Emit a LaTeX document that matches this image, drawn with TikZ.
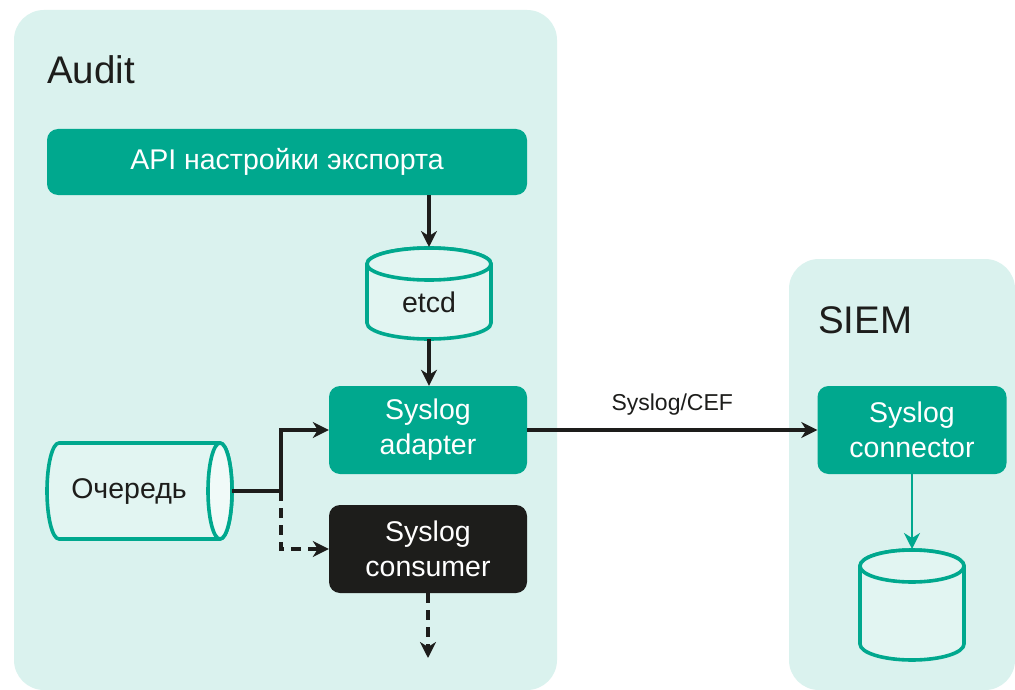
\documentclass[tikz,border=0pt]{standalone}
\usepackage{fontspec}
\setmainfont{Liberation Sans}
\usetikzlibrary{arrows.meta}
\definecolor{teal}{HTML}{00A88E}
\definecolor{panel}{HTML}{DAF2EE}
\definecolor{cylfill}{HTML}{E2F5F2}
\definecolor{ink}{HTML}{1D1D1B}
\tikzset{
  panelbox/.style={fill=panel, draw=none, rounded corners=30pt},
  tealbox/.style={fill=teal, draw=none, rounded corners=11pt, text=white, align=center,
    font=\fontsize{28.5}{35}\selectfont, inner sep=0pt},
  blackbox/.style={tealbox, fill=ink},
  cyl/.style={draw=teal, fill=cylfill, line width=3.6pt},
  conn/.style={draw=ink, line width=3.1pt, -{Stealth[length=16pt,width=16pt,inset=5pt]}},
  plain/.style={draw=ink, line width=3.1pt},
  dashconn/.style={conn, dash pattern=on 10pt off 7pt},
  tealconn/.style={conn, draw=teal, line width=2.6pt},
  title/.style={font=\fontsize{38.5}{42}\selectfont, text=ink, anchor=base west, inner sep=0pt},
  cyltext/.style={font=\fontsize{28.5}{35}\selectfont, text=ink, inner sep=0pt},
  lbl/.style={font=\fontsize{23}{28}\selectfont, text=ink, inner sep=0pt}
}
\begin{document}
\begin{tikzpicture}[x=1pt, y=-1pt]
\useasboundingbox[fill=white] (0,0) rectangle (1015,690);
% panels
\fill[panelbox] (14,10) rectangle (557,690);
\fill[panelbox] (789,259) rectangle (1015,690);
\node[title] (audit) at (47,84) {Audit};
\node[title] (siem) at (818,333) {SIEM};
% boxes
\node[tealbox, minimum width=480pt, minimum height=66pt] (api) at (287,162) {API настройки экспорта};
\node[tealbox, minimum width=198pt, minimum height=88pt] (adapter) at (428,430) {Syslog\\adapter};
\node[blackbox, minimum width=198pt, minimum height=88pt] (consumer) at (428,549) {Syslog\\consumer};
\node[tealbox, minimum width=189pt, minimum height=88pt] (connector) at (912,430) {Syslog\\connector};
% etcd cylinder
\path[cyl] (367,264) -- (367,323) arc[start angle=180, end angle=360, x radius=62pt, y radius=16pt]
  -- (491,264) arc[start angle=0, end angle=180, x radius=62pt, y radius=16pt] -- cycle;
\draw[cyl] (429,264) ellipse[x radius=62pt, y radius=16pt];
\coordinate (etcdtop) at (429,247);
\coordinate (etcdbot) at (429,339);
\node[cyltext] (etcd) at (429,302) {etcd};
% SIEM storage cylinder
\path[cyl] (860,566) -- (860,644) arc[start angle=180, end angle=360, x radius=52pt, y radius=16pt]
  -- (964,566) arc[start angle=0, end angle=180, x radius=52pt, y radius=16pt] -- cycle;
\draw[cyl] (912,566) ellipse[x radius=52pt, y radius=16pt];
\coordinate (dbtop) at (912,549);
% queue cylinder (horizontal)
\path[cyl] (220,443) -- (59,443) arc[start angle=90, end angle=270, x radius=12pt, y radius=48pt]
  -- (220,539) arc[start angle=270, end angle=450, x radius=12pt, y radius=48pt] -- cycle;
\draw[cyl, fill=cylfill!50!white] (220,491) ellipse[x radius=12pt, y radius=48pt];
\node[cyltext] (queue) at (129,492) {Очередь};
\coordinate (queueout) at (232,491);
\coordinate (split) at (281,491);
\coordinate (consout) at (428,658);
% connectors
\draw[conn] (api.south -| etcdtop) -- (etcdtop);
\draw[conn] (etcdbot) -- (adapter.north -| etcdbot);
\draw[plain] (queueout) -- (split);
\draw[conn] (split) |- (adapter.west);
\draw[dashconn] (split) |- (consumer.west);
\draw[dashconn] (consumer.south) -- (consout);
\draw[conn] (adapter.east) -- node[lbl, above=13pt] (proto) {Syslog/CEF} (connector.west);
\draw[tealconn] (connector.south) -- (dbtop);
\end{tikzpicture}
\end{document}
